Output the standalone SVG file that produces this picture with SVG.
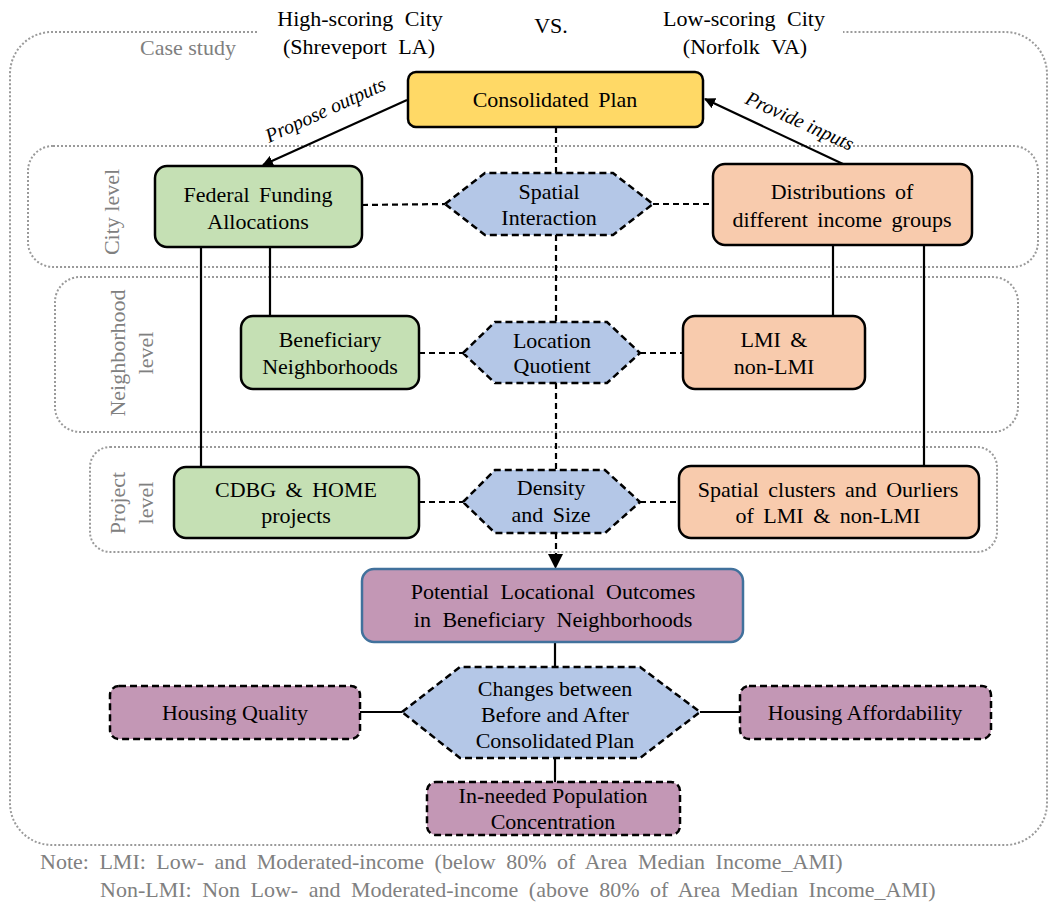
<svg xmlns="http://www.w3.org/2000/svg" width="1050" height="905" viewBox="0 0 1050 905">
<defs>
<style>
text{font-family:"Liberation Serif","Times New Roman",serif;font-size:22px;fill:#000;}
.c{text-anchor:middle;word-spacing:4px;}
.gray{fill:#808080;}
.lvl{fill:#808080;text-anchor:middle;}
.it{font-style:italic;font-size:20px;text-anchor:middle;}
.dot{fill:none;stroke:#9a9a9a;stroke-width:2;stroke-dasharray:2 2;}
.box{stroke:#000;stroke-width:2.5;}
.dbox{stroke:#000;stroke-width:2.5;stroke-dasharray:7 4;}
.green{fill:#C5E0B4;}
.peach{fill:#F8CBAD;}
.hex{fill:#B4C7E7;stroke:#000;stroke-width:2.5;stroke-dasharray:7 4;}
.mauve{fill:#C397B5;}
.sl{stroke:#000;stroke-width:2.2;fill:none;}
.dl{stroke:#000;stroke-width:2.2;fill:none;stroke-dasharray:6 4;}
</style>
<marker id="arr" viewBox="0 0 10 10" refX="9" refY="5" markerWidth="5" markerHeight="5" orient="auto" markerUnits="strokeWidth">
<path d="M0,0 L10,5 L0,10 z" fill="#000"/>
</marker>
</defs>
<rect width="1050" height="905" fill="#fff"/>

<g id="frames">
<path class="dot" d="M257,32 H52 A42,42 0 0 0 10,74 V803 A42,42 0 0 0 52,845 H1005 A42,42 0 0 0 1047,803 V74 A42,42 0 0 0 1005,32 H843"/>
<rect class="dot" x="28" y="146" width="1010" height="121" rx="25"/>
<rect class="dot" x="55" y="277" width="963" height="155" rx="25"/>
<rect class="dot" x="90" y="447" width="907" height="105" rx="20"/>
</g>

<g id="titles">
<text class="c gray" x="188" y="55" style="word-spacing:0">Case study</text>
<text class="c" x="360" y="26" style="word-spacing:6px">High-scoring City</text>
<text class="c" x="359" y="54" style="word-spacing:6px">(Shreveport LA)</text>
<text class="c" x="551" y="33">VS.</text>
<text class="c" x="744" y="26" style="word-spacing:6px">Low-scoring City</text>
<text class="c" x="745" y="54" style="word-spacing:6px">(Norfolk VA)</text>
</g>

<g id="level-labels">
<text class="lvl" transform="translate(119,212) rotate(-90)">City level</text>
<text class="lvl" transform="translate(125,353) rotate(-90)">Neighborhood</text>
<text class="lvl" transform="translate(153,353) rotate(-90)">level</text>
<text class="lvl" transform="translate(125,503) rotate(-90)">Project</text>
<text class="lvl" transform="translate(153,503) rotate(-90)">level</text>
</g>

<g id="connectors">
<line class="sl" x1="407" y1="100" x2="263" y2="165" marker-end="url(#arr)"/>
<line class="sl" x1="843" y1="164" x2="705" y2="99" marker-end="url(#arr)"/>
<line class="dl" x1="556" y1="127" x2="556" y2="173"/>
<line class="dl" x1="556" y1="235" x2="556" y2="322"/>
<line class="dl" x1="556" y1="383" x2="556" y2="470"/>
<line class="dl" x1="556" y1="533" x2="556" y2="556"/>
<polygon points="548,554 563,554 555.5,569" fill="#000"/>
<line class="dl" x1="362" y1="205" x2="445" y2="204"/>
<line class="dl" x1="653" y1="204" x2="713" y2="204"/>
<line class="dl" x1="419" y1="353" x2="463" y2="353"/>
<line class="dl" x1="640" y1="353" x2="683" y2="353"/>
<line class="dl" x1="419" y1="502" x2="463" y2="502"/>
<line class="dl" x1="640" y1="502" x2="679" y2="502"/>
<line class="sl" x1="201" y1="247" x2="201" y2="467"/>
<line class="sl" x1="270" y1="247" x2="270" y2="316"/>
<line class="sl" x1="833" y1="245" x2="833" y2="316"/>
<line class="sl" x1="924" y1="245" x2="924" y2="466"/>
<line class="sl" x1="555" y1="642" x2="555" y2="667"/>
<line class="sl" x1="360" y1="712" x2="402" y2="712"/>
<line class="sl" x1="700" y1="712" x2="740" y2="712"/>
<line class="sl" x1="555" y1="758" x2="555" y2="782"/>
<text class="it" transform="translate(328,116) rotate(-24.5)">Propose outputs</text>
<text class="it" transform="translate(797,127) rotate(24.4)">Provide inputs</text>
</g>

<g id="consolidated-plan">
<rect class="box" x="408" y="72" width="295" height="55" rx="8" fill="#FFD966"/>
<text class="c" x="555" y="107">Consolidated Plan</text>
</g>

<g id="federal-funding">
<rect class="box green" x="155" y="166" width="207" height="81" rx="12"/>
<text class="c" x="258" y="202">Federal Funding</text>
<text class="c" x="258" y="229">Allocations</text>
</g>

<g id="spatial-interaction">
<polygon class="hex" points="445,204 485,173 613,173 653,204 613,235 485,235"/>
<text class="c" x="549" y="199">Spatial</text>
<text class="c" x="549" y="225">Interaction</text>
</g>

<g id="distributions">
<rect class="box peach" x="713" y="164" width="259" height="81" rx="12"/>
<text class="c" x="842" y="199">Distributions of</text>
<text class="c" x="842" y="227">different income groups</text>
</g>

<g id="beneficiary">
<rect class="box green" x="241" y="316" width="178" height="73" rx="12"/>
<text class="c" x="330" y="347">Beneficiary</text>
<text class="c" x="330" y="374">Neighborhoods</text>
</g>

<g id="location-quotient">
<polygon class="hex" points="463,353 495,322 607,322 640,353 607,383 495,383"/>
<text class="c" x="552" y="348">Location</text>
<text class="c" x="552" y="373">Quotient</text>
</g>

<g id="lmi">
<rect class="box peach" x="683" y="316" width="182" height="73" rx="12"/>
<text class="c" x="774" y="347">LMI &amp;</text>
<text class="c" x="774" y="374">non-LMI</text>
</g>

<g id="cdbg-home">
<rect class="box green" x="174" y="467" width="245" height="71" rx="12"/>
<text class="c" x="296" y="497">CDBG &amp; HOME</text>
<text class="c" x="296" y="523">projects</text>
</g>

<g id="density-size">
<polygon class="hex" points="463,502 495,470 605,470 640,502 605,533 495,533"/>
<text class="c" x="551" y="495">Density</text>
<text class="c" x="551" y="522">and Size</text>
</g>

<g id="spatial-clusters">
<rect class="box peach" x="679" y="466" width="300" height="72" rx="12"/>
<text class="c" x="828" y="497">Spatial clusters and Ourliers</text>
<text class="c" x="828" y="523">of LMI &amp; non-LMI</text>
</g>

<g id="potential-outcomes">
<rect x="362" y="569" width="381" height="73" rx="12" class="mauve" stroke="#41719C" stroke-width="2.5"/>
<text class="c" x="553" y="599" style="word-spacing:6px">Potential Locational Outcomes</text>
<text class="c" x="553" y="627" style="word-spacing:6px">in Beneficiary Neighborhoods</text>
</g>

<g id="changes">
<polygon class="hex" points="402,712 460,667 640,667 700,712 640,758 460,758"/>
<text class="c" x="555" y="696" style="word-spacing:0">Changes between</text>
<text class="c" x="555" y="722" style="word-spacing:0">Before and After</text>
<text class="c" x="555" y="748" style="word-spacing:-2px">Consolidated Plan</text>
</g>

<g id="housing-quality">
<rect class="dbox mauve" x="110" y="686" width="250" height="53" rx="9"/>
<text class="c" x="235" y="720" style="word-spacing:0">Housing Quality</text>
</g>

<g id="housing-affordability">
<rect class="dbox mauve" x="740" y="686" width="251" height="53" rx="9"/>
<text class="c" x="865" y="720" style="word-spacing:0">Housing Affordability</text>
</g>

<g id="in-needed">
<rect class="dbox mauve" x="427" y="782" width="253" height="53" rx="9"/>
<text class="c" x="553" y="803" style="word-spacing:0">In-needed Population</text>
<text class="c" x="553" y="829" style="word-spacing:0">Concentration</text>
</g>

<g id="note">
<text class="gray" x="40" y="869" style="word-spacing:5px">Note: LMI: Low- and Moderated-income (below 80% of Area Median Income_AMI)</text>
<text class="gray" x="100" y="897" style="word-spacing:5px">Non-LMI: Non Low- and Moderated-income (above 80% of Area Median Income_AMI)</text>
</g>
</svg>
